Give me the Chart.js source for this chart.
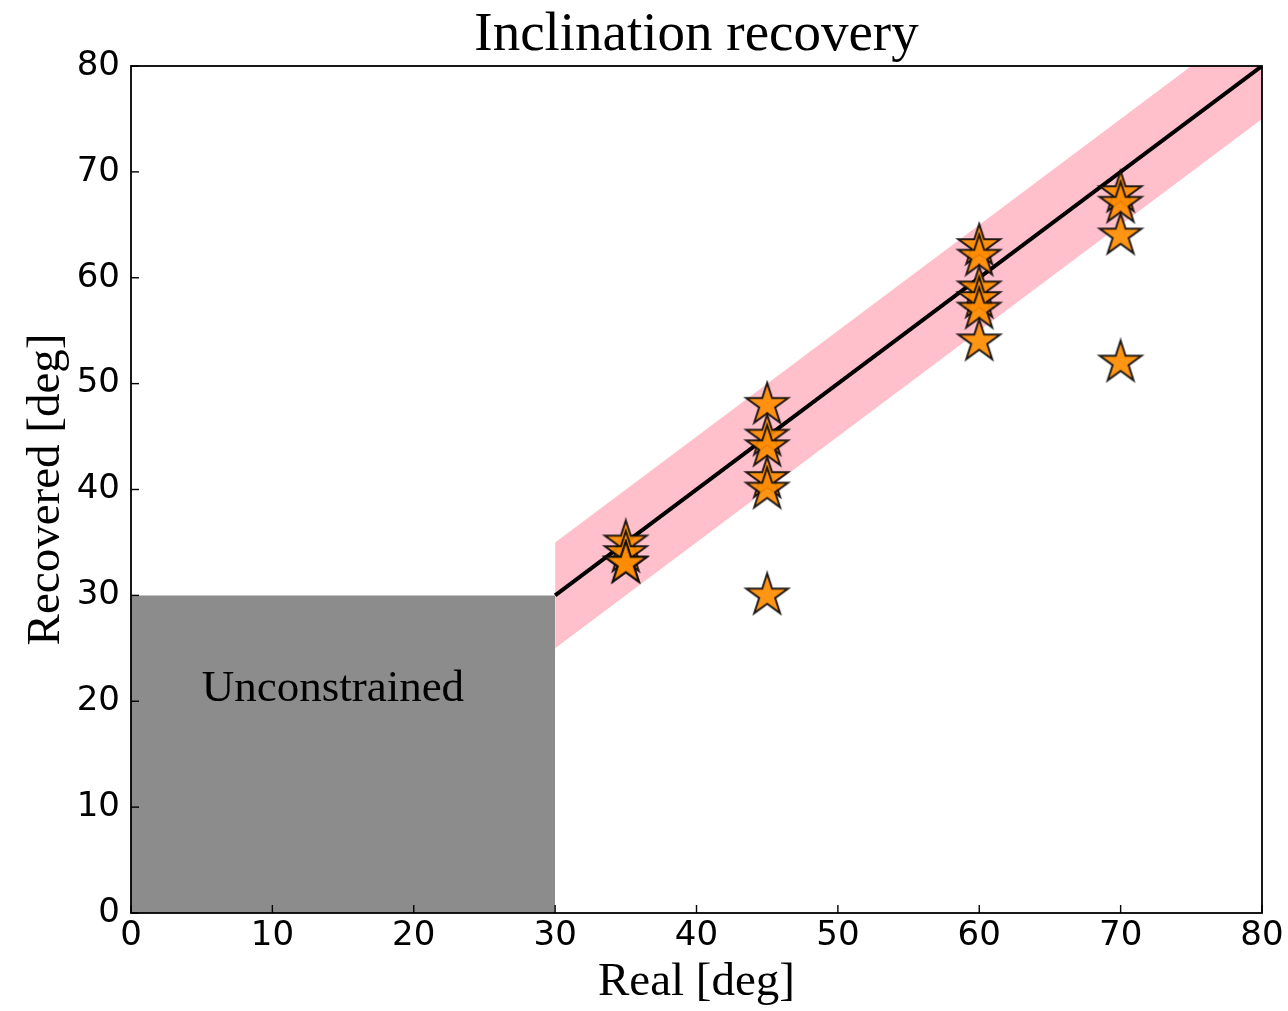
<!DOCTYPE html>
<html>
<head>
<meta charset="utf-8">
<script src="https://cdn.jsdelivr.net/npm/chart.js@4.4.1/dist/chart.umd.min.js"></script>
<style>
  html, body { margin: 0; padding: 0; background: #fff; }
  #wrap { width: 1288px; height: 1011px; position: relative; }
</style>
</head>
<body>
<div id="wrap"><canvas id="incChart" width="1288" height="1011"></canvas></div>
<script>
// data
const realDeg      = [35, 35, 35, 35, 45, 45, 45, 45, 45, 45, 60, 60, 60, 60, 60, 60, 70, 70, 70, 70];
const recoveredDeg = [35, 34, 33, 33, 48, 45, 44, 41, 40, 30, 63, 62, 59, 58, 57, 54, 68, 67, 64, 52];

const oneToOneX = [30, 80];
const oneToOneY = [30, 80];
const bandUpperY = [35, 85];
const bandLowerY = [25, 75];

const unconstrainedX = [0, 30];
const unconstrainedY = [30, 30];
const unconstrainedLabel = 'Unconstrained';
const unconstrainedLabelAt = [5, 20];

const axisTicks = [0, 10, 20, 30, 40, 50, 60, 70, 80];

const toPoints = (xs, ys) => xs.map((x, i) => ({ x: x, y: ys[i] }));

// filled star marker like matplotlib '*'
function makeStar(size) {
    const c = document.createElement('canvas');
    const pad = 3;
    c.width = c.height = size * 2 + pad * 2;
    const ctx = c.getContext('2d');
    const cx = size + pad, cy = size + pad;
    const inner = size * 0.382;
    ctx.beginPath();
    for (let i = 0; i < 10; i++) {
        const r = i % 2 === 0 ? size : inner;
        const a = -Math.PI / 2 + i * Math.PI / 5;
        const px = cx + r * Math.cos(a), py = cy + r * Math.sin(a);
        if (i === 0) ctx.moveTo(px, py); else ctx.lineTo(px, py);
    }
    ctx.closePath();
    ctx.fillStyle = 'rgba(255, 140, 0, 0.92)';
    ctx.fill();
    ctx.lineJoin = 'miter';
    ctx.lineWidth = 2;
    ctx.strokeStyle = 'rgba(10, 10, 10, 0.9)';
    ctx.stroke();
    return c;
}
const starImg = makeStar(22);

// frame, inward ticks, title and the box label
const decorPlugin = {
    id: 'decor',
    afterDraw(chart) {
        const ctx = chart.ctx;
        const a = chart.chartArea;
        const xs = chart.scales.x, ys = chart.scales.y;
        ctx.save();
        ctx.strokeStyle = '#000';
        ctx.lineWidth = 1.8;
        ctx.strokeRect(a.left, a.top, a.right - a.left, a.bottom - a.top);
        ctx.lineWidth = 1.4;
        axisTicks.forEach(v => {
            const px = xs.getPixelForValue(v);
            ctx.beginPath(); ctx.moveTo(px, a.bottom); ctx.lineTo(px, a.bottom - 8); ctx.stroke();
            const py = ys.getPixelForValue(v);
            ctx.beginPath(); ctx.moveTo(a.left, py); ctx.lineTo(a.left + 8, py); ctx.stroke();
        });
        ctx.fillStyle = '#000';
        ctx.font = '55px "Liberation Serif", serif';
        ctx.textAlign = 'center';
        ctx.textBaseline = 'alphabetic';
        ctx.fillText('Inclination recovery', (a.left + a.right) / 2, 50);
        ctx.font = '45px "Liberation Serif", serif';
        ctx.textAlign = 'left';
        ctx.fillText(unconstrainedLabel, xs.getPixelForValue(unconstrainedLabelAt[0]), ys.getPixelForValue(unconstrainedLabelAt[1]));
        ctx.restore();
    }
};

const ctx = document.getElementById('incChart').getContext('2d');
const incChart = new Chart(ctx, {
    type: 'scatter',
    data: {
        datasets: [
            {
                label: 'Recovered',
                data: toPoints(realDeg, recoveredDeg),
                pointStyle: starImg,
                pointRadius: 20,
                order: 0,
            },
            {
                label: 'One to one',
                data: toPoints(oneToOneX, oneToOneY),
                showLine: true,
                borderColor: '#000',
                borderWidth: 4,
                pointRadius: 0,
                fill: false,
                order: 1,
            },
            {
                label: 'Band upper',
                data: toPoints(oneToOneX, bandUpperY),
                showLine: true,
                borderWidth: 0,
                borderColor: 'rgba(0,0,0,0)',
                backgroundColor: '#ffc0cb',
                pointRadius: 0,
                fill: '+1',
                order: 2,
            },
            {
                label: 'Band lower',
                data: toPoints(oneToOneX, bandLowerY),
                showLine: true,
                borderWidth: 0,
                borderColor: 'rgba(0,0,0,0)',
                pointRadius: 0,
                fill: false,
                order: 3,
            },
            {
                label: 'Unconstrained',
                data: toPoints(unconstrainedX, unconstrainedY),
                showLine: true,
                borderWidth: 0,
                borderColor: 'rgba(0,0,0,0)',
                backgroundColor: '#8c8c8c',
                pointRadius: 0,
                fill: 'origin',
                order: 4,
            },
        ]
    },
    options: {
        responsive: false,
        animation: false,
        layout: { padding: { top: 66, right: 26, left: 0, bottom: 0 } },
        plugins: {
            legend: { display: false },
            tooltip: { enabled: false },
        },
        scales: {
            x: {
                type: 'linear',
                min: 0,
                max: 80,
                afterFit: s => { s.height = 98; },
                afterBuildTicks: s => { s.ticks = axisTicks.map(v => ({ value: v })); },
                grid: { display: false },
                border: { display: false },
                ticks: {
                    color: '#000',
                    padding: -5,
                    maxRotation: 0,
                    font: { family: '"DejaVu Sans", sans-serif', size: 34 },
                },
                title: {
                    display: true,
                    text: 'Real [deg]',
                    color: '#000',
                    padding: { top: 0, bottom: 0 },
                    font: { family: '"Liberation Serif", serif', size: 47 },
                },
            },
            y: {
                type: 'linear',
                min: 0,
                max: 80,
                afterFit: s => { s.width = 131; },
                afterBuildTicks: s => { s.ticks = axisTicks.map(v => ({ value: v })); },
                grid: { display: false },
                border: { display: false },
                ticks: {
                    color: '#000',
                    padding: 3,
                    font: { family: '"DejaVu Sans", sans-serif', size: 34 },
                },
                title: {
                    display: true,
                    text: 'Recovered [deg]',
                    color: '#000',
                    padding: { top: 18, bottom: 0 },
                    font: { family: '"Liberation Serif", serif', size: 47 },
                },
            },
        },
    },
    plugins: [decorPlugin],
});
</script>
</body>
</html>
